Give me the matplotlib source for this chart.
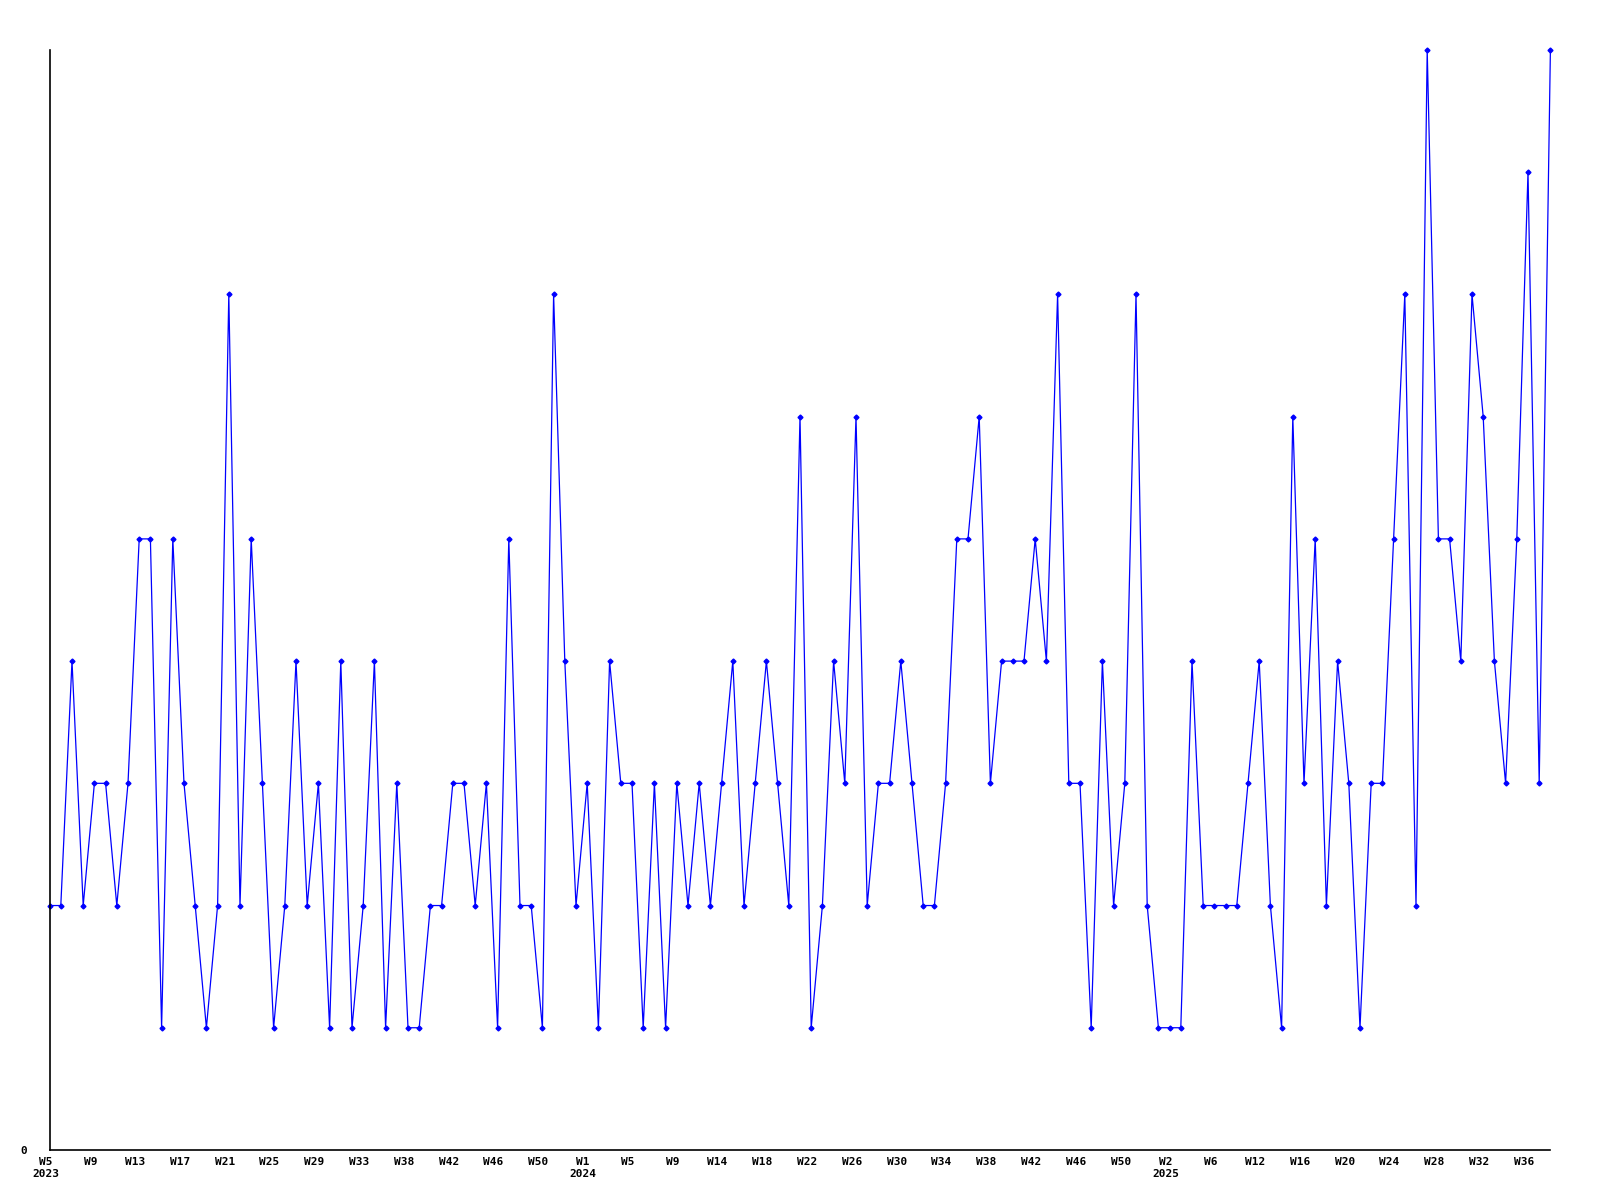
import matplotlib
matplotlib.use("Agg")
import matplotlib.pyplot as plt
import matplotlib.transforms as mtransforms

# weekly counts, W5 2023 .. W38 2025 (weeks without data are not in the series)
counts = [
    2, 2, 4, 2, 3, 3, 2, 3, 5, 5, 1, 5, 3, 2, 1, 2, 7, 2, 5, 3,
    1, 2, 4, 2, 3, 1, 4, 1, 2, 4, 1, 3, 1, 1, 2, 2, 3, 3, 2, 3,
    1, 5, 2, 2, 1, 7, 4, 2, 3, 1, 4, 3, 3, 1, 3, 1, 3, 2, 3, 2,
    3, 4, 2, 3, 4, 3, 2, 6, 1, 2, 4, 3, 6, 2, 3, 3, 4, 3, 2, 2,
    3, 5, 5, 6, 3, 4, 4, 4, 5, 4, 7, 3, 3, 1, 4, 2, 3, 7, 2, 1,
    1, 1, 4, 2, 2, 2, 2, 3, 4, 2, 1, 6, 3, 5, 2, 4, 3, 1, 3, 3,
    5, 7, 2, 9, 5, 5, 4, 7, 6, 4, 3, 5, 8, 3, 9,
]

# every 4th point gets a label
tick_labels = ["W5\n2023", "W9", "W13", "W17", "W21", "W25", "W29", "W33", "W38",
               "W42", "W46", "W50",
               "W1\n2024", "W5", "W9", "W14", "W18", "W22", "W26", "W30", "W34",
               "W38", "W42", "W46", "W50",
               "W2\n2025", "W6", "W12", "W16", "W20", "W24", "W28", "W32", "W36"]
tick_idx = [4 * i for i in range(len(tick_labels))]

fig = plt.figure(figsize=(16, 12), dpi=100)
ax = fig.add_axes([0.031, 0.0417, 0.938, 0.9166])

x = list(range(len(counts)))
ax.plot(x, counts, color="#0000ff", linewidth=0.9, marker="D", markersize=2.5,
        clip_on=False)

font = dict(family="DejaVu Sans Mono", weight="bold", size=8)
ax.set_xticks(tick_idx)
ax.set_xticklabels(tick_labels, fontdict=font, multialignment="center")
ax.set_yticks([0])
ax.set_yticklabels(["0"], fontdict=font)
ax.set_xlim(0, len(counts) - 1)
ax.set_ylim(0, max(counts))
ax.tick_params(axis="both", length=0)
ax.tick_params(axis="x", pad=5)
ax.tick_params(axis="y", pad=16)

# labels sit a few pixels left of their point
shift = mtransforms.ScaledTranslation(-0.04, 0, fig.dpi_scale_trans)
for lab in ax.get_xticklabels():
    lab.set_transform(lab.get_transform() + shift)

for side in ["top", "right"]:
    ax.spines[side].set_visible(False)
for side in ["left", "bottom"]:
    ax.spines[side].set_linewidth(1.2)

fig.savefig("out.png", dpi=100)
